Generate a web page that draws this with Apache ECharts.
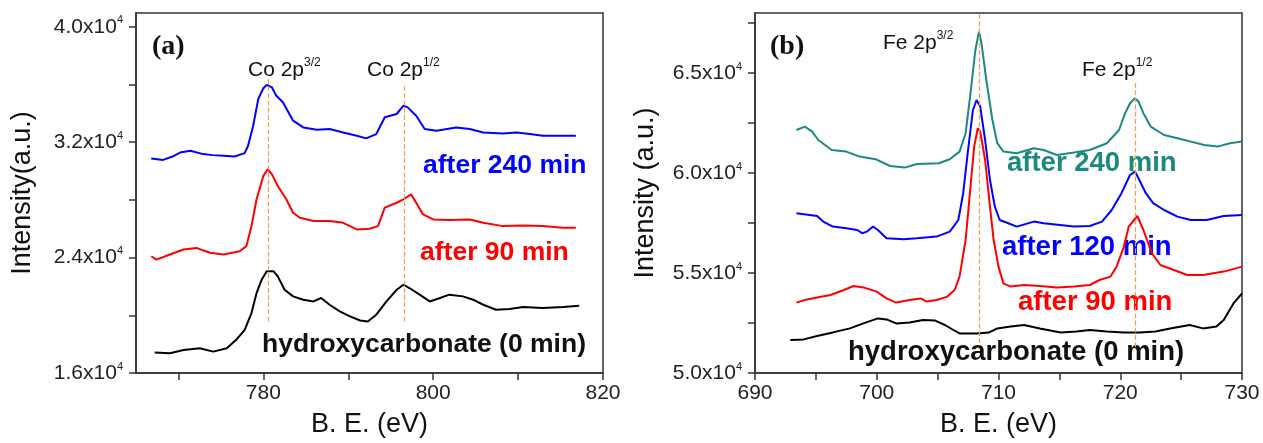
<!DOCTYPE html>
<html>
<head>
<meta charset="utf-8" />
<title></title>
<script src="https://cdn.jsdelivr.net/npm/echarts@6/dist/echarts.min.js"></script>
<style>
html,body{margin:0;padding:0;background:#fff;}
#chart{width:1263px;height:443px;}
</style>
</head>
<body>
<div id="chart"></div>
<script>
// panel (a): Co 2p, [B.E., intensity]
var co240 = [[766.8,30870],[768.2,30770],[769.3,31000],[770.2,31280],[771.4,31400],[772.9,31170],[774.0,31100],[775.3,31050],[776.6,31000],[777.8,31240],[778.2,31750],[778.8,33140],[779.4,34990],[780.0,35740],[780.4,35970],[781.0,35800],[781.5,35230],[782.3,34760],[783.5,33490],[784.7,33020],[786.3,32860],[787.8,32910],[789.4,32670],[791.0,32440],[792.1,32260],[793.3,32560],[794.3,33720],[795.7,33950],[796.5,34530],[797.0,34410],[798.0,33830],[799.0,32910],[800.4,32790],[802.7,33020],[804.3,32910],[805.9,32670],[808.2,32600],[809.8,32670],[811.4,32560],[812.9,32440],[815.3,32440],[816.8,32440]];
var co90 = [[766.8,24090],[767.4,23860],[769.0,24210],[770.6,24560],[772.1,24670],[773.7,24330],[775.3,24210],[777.2,24440],[778.0,24790],[778.6,26180],[779.2,28040],[780.0,29660],[780.5,30120],[781.0,29780],[781.7,28960],[782.7,28040],[783.5,27110],[784.3,26760],[785.9,26530],[787.8,26530],[789.4,26410],[791.0,25950],[792.5,26000],[793.5,26180],[794.3,27460],[795.7,27800],[796.5,28040],[797.4,28380],[798.0,27800],[798.8,26990],[800.0,26640],[801.9,26600],[804.3,26640],[805.9,26410],[808.2,26180],[810.6,26230],[812.9,26180],[815.3,26070],[816.8,26070]];
var co0 = [[767.2,17420],[769.0,17370],[770.6,17600],[772.5,17720],[774.1,17480],[775.7,17720],[776.8,18300],[777.8,18990],[778.6,20150],[779.2,21540],[779.8,22470],[780.4,23050],[781.2,23050],[781.7,22700],[782.5,21770],[783.5,21310],[784.7,21080],[785.9,20960],[786.8,21200],[787.8,20730],[789.0,20270],[790.2,19920],[791.4,19640],[792.3,19570],[793.3,20040],[794.5,20960],[795.7,21770],[796.5,22120],[797.2,21890],[798.4,21430],[799.6,20960],[800.8,21200],[801.9,21430],[803.5,21310],[804.7,21080],[805.9,20730],[807.4,20380],[809.0,20430],[810.6,20570],[812.9,20500],[815.3,20570],[817.2,20660]];
var coPeaks = [[780.6,19570,36380],[796.6,19570,36040]];

// panel (b): Fe 2p
var fe240 = [[693.4,62150],[694.1,62320],[694.7,62070],[695.2,61650],[696.3,61150],[697.5,61070],[698.6,60820],[699.9,60690],[701.1,60350],[702.3,60270],[703.3,60450],[705.1,60490],[706.0,60690],[706.8,61070],[707.3,61990],[707.7,63990],[708.1,66150],[708.4,67070],[708.6,66490],[709.0,64650],[709.5,62650],[709.9,61490],[710.4,61070],[711.5,60990],[712.9,61240],[713.7,61150],[714.8,60900],[716.2,61020],[717.5,61150],[718.9,61490],[719.9,62150],[720.4,62990],[720.8,63490],[721.2,63740],[721.5,63570],[721.9,62990],[722.5,62320],[723.6,61900],[724.7,61740],[725.8,61570],[726.9,61400],[728.0,61320],[729.0,61490],[730.0,61570]];
var fe120 = [[693.4,57990],[695.1,57850],[695.6,57570],[696.4,57320],[697.5,57240],[698.4,57150],[698.8,56990],[699.2,57070],[699.7,57320],[700.1,57150],[700.8,56740],[702.2,56690],[703.3,56740],[704.9,56820],[706.0,57070],[706.7,57650],[707.1,58990],[707.5,61150],[707.9,63150],[708.2,63650],[708.5,63320],[708.9,61650],[709.3,59650],[709.7,58320],[710.1,57650],[710.8,57490],[711.5,57320],[712.9,57570],[713.7,57490],[716.2,57320],[717.5,57350],[718.5,57570],[719.3,58150],[720.1,58990],[720.8,59900],[721.2,60070],[721.5,59740],[722.1,58990],[722.7,58490],[723.6,58150],[724.7,57820],[725.8,57650],[727.1,57650],[728.5,57850],[730.0,57900]];
var fe90 = [[693.4,53520],[694.1,53650],[695.1,53780],[696.2,53900],[697.3,54150],[698.1,54350],[698.9,54280],[700.0,54070],[700.8,53730],[701.6,53520],[702.7,53650],[703.6,53730],[704.1,53570],[704.9,53650],[705.8,53820],[706.4,54150],[706.8,54820],[707.3,56650],[707.7,59320],[708.0,61320],[708.3,62240],[708.5,62070],[708.9,60650],[709.3,58320],[709.6,56650],[710.0,55320],[710.4,54480],[711.0,54320],[712.1,54400],[713.4,54350],[714.8,54280],[716.2,54320],[717.5,54400],[718.3,54650],[719.2,54820],[719.7,55320],[720.3,56320],[720.7,57320],[721.4,57850],[721.9,57150],[722.6,55980],[723.3,55400],[724.4,55150],[725.5,54900],[726.8,54900],[728.5,55070],[730.0,55320]];
var fe0 = [[692.9,51650],[694.0,51680],[695.1,51850],[696.4,52030],[697.8,52230],[698.9,52480],[700.1,52730],[700.8,52680],[701.6,52480],[702.7,52520],[703.8,52650],[704.8,52620],[705.6,52400],[706.3,52150],[706.8,51980],[708.2,51980],[709.2,52020],[709.9,52230],[711.0,52320],[712.1,52400],[713.4,52230],[715.1,52020],[716.4,52070],[717.5,52150],[718.9,52070],[720.3,52020],[721.6,52020],[722.9,52070],[724.1,52230],[725.7,52400],[726.8,52230],[727.9,52320],[728.5,52650],[729.3,53480],[730.0,53980]];
var fePeaks = [[708.4,51500,68000],[721.2,51300,64550]];

// ticks
var coXTicks = [770,780,790,800,810,820];
var coXLabels = [780,800,820];
var coYTicks = [16000,20000,24000,28000,32000,36000,40000];
var coYLabels = [16000,24000,32000,40000];
var feXTicks = [690,695,700,705,710,715,720,725,730];
var feXLabels = [690,700,710,720,730];
var feYTicks = [50000,52500,55000,57500,60000,62500,65000,67500];
var feYLabels = [50000,55000,60000,65000];

var FONT = '"Liberation Sans", Arial, sans-serif';
var AXC = '#333';

function peakLines(peaks) {
	return peaks.map(function (p) {
		return [{coord: [p[0], p[1]]}, {coord: [p[0], p[2]]}];
	});
}

function xAxisOf(idx, min, max, ticks, labels) {
	return {
		type: 'value', gridIndex: idx, min: min, max: max,
		name: 'B. E. (eV)', nameLocation: 'middle', nameGap: 38,
		nameTextStyle: {fontFamily: FONT, fontSize: 27, color: '#111'},
		axisLine: {show: true, onZero: false, lineStyle: {color: AXC, width: 1.5}},
		axisTick: {show: true, inside: false, length: 7, customValues: ticks, lineStyle: {color: AXC, width: 1.5}},
		axisLabel: {customValues: labels, margin: 10, fontFamily: FONT, fontSize: 21, color: '#222'},
		splitLine: {show: false}
	};
}

function yAxisOf(idx, min, max, ticks, labels, title, gap) {
	return {
		type: 'value', gridIndex: idx, min: min, max: max,
		name: title, nameLocation: 'middle', nameGap: gap,
		nameTextStyle: {fontFamily: FONT, fontSize: 27, color: '#111'},
		axisLine: {show: true, onZero: false, lineStyle: {color: AXC, width: 1.5}},
		axisTick: {show: true, inside: false, length: 7, customValues: ticks, lineStyle: {color: AXC, width: 1.5}},
		axisLabel: {
			customValues: labels, margin: 13,
			formatter: function (v) { return '{m|' + (v / 1e4).toFixed(1) + 'x10}{s|4}'; },
			rich: {
				m: {fontFamily: FONT, fontSize: 21, color: '#222', lineHeight: 24},
				s: {fontFamily: FONT, fontSize: 11, color: '#222', verticalAlign: 'top', lineHeight: 12}
			}
		},
		splitLine: {show: false}
	};
}

function line(name, data, color, xi, marks) {
	var s = {
		name: name, type: 'line', xAxisIndex: xi, yAxisIndex: xi,
		data: data, showSymbol: false, symbol: 'none',
		lineStyle: {color: color, width: 2}, animation: false
	};
	if (marks) {
		s.markLine = {
			silent: true, symbol: 'none', label: {show: false},
			lineStyle: {color: '#F39C4A', type: 'dashed', width: 1.2},
			data: peakLines(marks)
		};
	}
	return s;
}

function txt(x, y, text, color, size, bold, family) {
	return {
		type: 'text', x: x, y: y, silent: true,
		style: {
			text: text, fill: color, textVerticalAlign: 'middle',
			font: (bold ? 'bold ' : '') + size + 'px ' + (family || FONT)
		}
	};
}

function peakLabel(x, y, main, sup) {
	return {
		type: 'text', x: x, y: y, silent: true,
		style: {
			text: '{a|' + main + '}{s|' + sup + '}',
			textVerticalAlign: 'middle',
			rich: {
				a: {fontFamily: FONT, fontSize: 21, fill: '#111', lineHeight: 26},
				s: {fontFamily: FONT, fontSize: 12, fill: '#111', verticalAlign: 'top', lineHeight: 12}
			}
		}
	};
}

var myChart = echarts.init(document.getElementById('chart'));
var SERIF = '"Liberation Serif", "Times New Roman", serif';
var option = {
	backgroundColor: '#fff',
	animation: false,
	grid: [
		{left: 136, top: 13, width: 467, height: 360, show: true, borderColor: AXC, borderWidth: 1.5, backgroundColor: 'transparent'},
		{left: 755, top: 13, width: 487, height: 360, show: true, borderColor: AXC, borderWidth: 1.5, backgroundColor: 'transparent'}
	],
	xAxis: [
		xAxisOf(0, 765, 820, coXTicks, coXLabels),
		xAxisOf(1, 690, 730, feXTicks, feXLabels)
	],
	yAxis: [
		yAxisOf(0, 16000, 40950, coYTicks, coYLabels, 'Intensity(a.u.)', 100),
		yAxisOf(1, 50000, 68000, feYTicks, feYLabels, 'Intensity (a.u.)', 96)
	],
	series: [
		line('after 240 min', co240, '#0000FF', 0, coPeaks),
		line('after 90 min', co90, '#FF0000', 0),
		line('hydroxycarbonate (0 min)', co0, '#000000', 0),
		line('after 240 min', fe240, '#1A8A80', 1, fePeaks),
		line('after 120 min', fe120, '#0000FF', 1),
		line('after 90 min', fe90, '#FF0000', 1),
		line('hydroxycarbonate (0 min)', fe0, '#000000', 1)
	],
	graphic: [
		txt(152, 47, '(a)', '#111', 28, true, SERIF),
		peakLabel(248, 70, 'Co 2p', '3/2'),
		peakLabel(367, 70, 'Co 2p', '1/2'),
		txt(423, 166, 'after 240 min', '#0000FF', 26.5, true),
		txt(420, 253, 'after 90 min', '#FF0000', 26.5, true),
		txt(262, 345, 'hydroxycarbonate (0 min)', '#111', 26.5, true),
		txt(770, 47, '(b)', '#111', 28, true, SERIF),
		peakLabel(883, 43, 'Fe 2p', '3/2'),
		peakLabel(1082, 70, 'Fe 2p', '1/2'),
		txt(1007, 163, 'after 240 min', '#1A8A80', 27.5, true),
		txt(1002, 247, 'after 120 min', '#0000FF', 27.5, true),
		txt(1018, 302, 'after 90 min', '#FF0000', 27.5, true),
		txt(848, 352, 'hydroxycarbonate (0 min)', '#111', 27.5, true)
	]
};
myChart.setOption(option);
</script>
</body>
</html>
